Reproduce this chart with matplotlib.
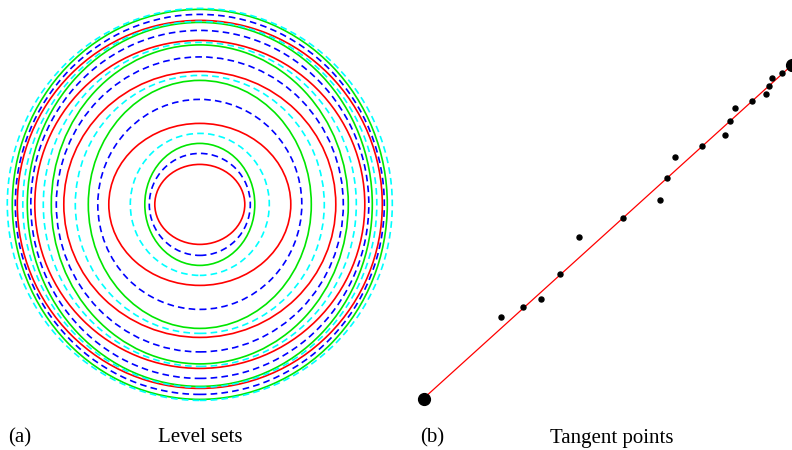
import matplotlib
matplotlib.use('Agg')
import matplotlib.pyplot as plt
from matplotlib.patches import Ellipse

# level sets: semi-axes (width, height) of each ring, four families, five levels
ring_colors = ['red', 'blue', '#00e600', 'cyan']
ring_dashed = [False, True, False, True]
semi_a = {
    'red':     [45, 91, 136, 165, 182.5],
    'blue':    [50.5, 102, 143.5, 169, 184.5],
    '#00e600': [55, 111.5, 148.5, 172.5, 187.5],
    'cyan':    [69.5, 124.5, 156.5, 177, 192.5],
}
semi_b = {
    'red':     [40, 81, 133, 164, 184],
    'blue':    [51, 105, 147.5, 174, 190],
    '#00e600': [61, 124, 159.5, 182, 195],
    'cyan':    [71, 129, 162, 183, 196],
}

# tangent points (normalised along the fitted line)
pts_x = [0.211, 0.270, 0.320, 0.370, 0.421, 0.541, 0.641, 0.661, 0.682, 0.757,
         0.818, 0.832, 0.845, 0.891, 0.929, 0.938, 0.946, 0.974, 0.997]
pts_y = [0.243, 0.273, 0.298, 0.372, 0.485, 0.542, 0.594, 0.662, 0.723, 0.758,
         0.790, 0.833, 0.870, 0.892, 0.912, 0.938, 0.961, 0.975, 0.990]
line_x = [0.0, 1.0]
line_y = [0.0, 1.0]

fig = plt.figure(figsize=(7.92, 4.5), dpi=100)

# (a) level sets, 1 data unit = 1 px
ax1 = fig.add_axes([0, 0, 400 / 792, 1])
ax1.set_xlim(-199.8, 200.2)
ax1.set_ylim(-245.6, 204.4)
ax1.axis('off')
for c, dashed in zip(ring_colors, ring_dashed):
    for a, b in zip(semi_a[c], semi_b[c]):
        e = Ellipse((0, 0), 2 * a, 2 * b, fill=False, edgecolor=c, lw=1.2,
                    linestyle=(0, (4, 2.5)) if dashed else '-')
        ax1.add_patch(e)

# (b) tangent points
ax2 = fig.add_axes([400 / 792, 0, 392 / 792, 1])
ax2.set_xlim((400 - 423.5) / 368.5, (792 - 423.5) / 368.5)
ax2.set_ylim((398.5 - 450) / 333.5, 398.5 / 333.5)
ax2.axis('off')
ax2.plot(line_x, line_y, color='red', lw=0.9, zorder=1)
ax2.plot(pts_x, pts_y, 'o', color='black', ms=3.6, zorder=2)
ax2.plot(line_x, line_y, 'o', color='black', ms=8.5, zorder=3)

font = dict(family='Liberation Serif', fontsize=15, va='center')
ty = (450 - 438) / 450
fig.text(8 / 792, ty, '(a)', ha='left', **font)
fig.text(200 / 792, ty, 'Level sets', ha='center', **font)
fig.text(420 / 792, ty, '(b)', ha='left', **font)
fig.text(612 / 792, ty, 'Tangent points', ha='center', **font)

fig.savefig('out.png', dpi=100)
